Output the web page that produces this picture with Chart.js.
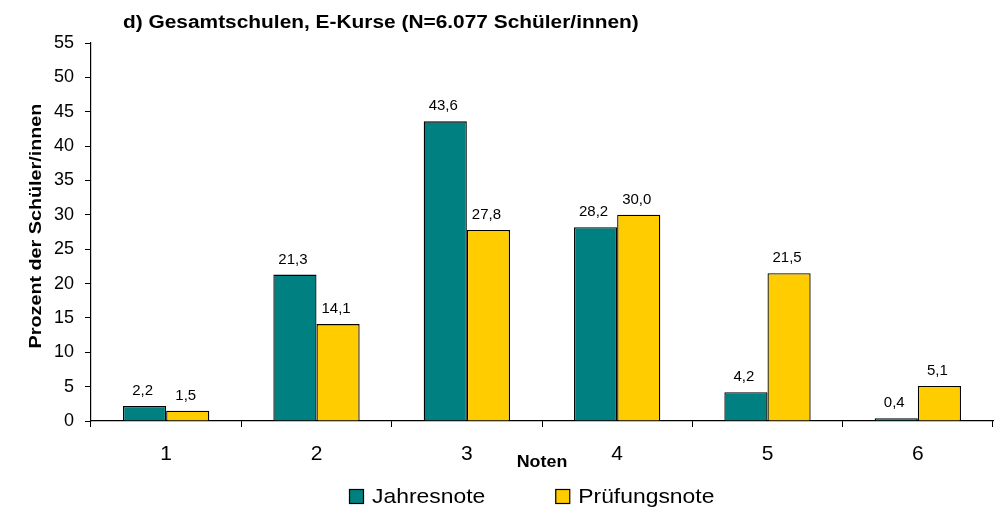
<!DOCTYPE html>
<html>
<head>
<meta charset="utf-8">
<script src="https://cdn.jsdelivr.net/npm/chart.js@4.4.1/dist/chart.umd.min.js"></script>
<style>
  html, body { margin: 0; padding: 0; background: #fff; }
  #wrap { width: 1004px; height: 513px; position: relative; }
</style>
</head>
<body>
<div id="wrap"><canvas id="c" width="1004" height="513"></canvas></div>
<script>
const titleText = 'd) Gesamtschulen, E-Kurse (N=6.077 Schüler/innen)';
const categories = ['1', '2', '3', '4', '5', '6'];
const seriesNames = ['Jahresnote', 'Prüfungsnote'];
const jahresnote = [2.2, 21.3, 43.6, 28.2, 4.2, 0.4];
const pruefungsnote = [1.5, 14.1, 27.8, 30.0, 21.5, 5.1];
const yTicks = [0, 5, 10, 15, 20, 25, 30, 35, 40, 45, 50, 55];
const yTitle = 'Prozent der Schüler/innen';
const xTitle = 'Noten';
const colors = ['#008080', '#FFCC00'];

const FONT = '"Liberation Sans", Arial, sans-serif';

const fmt = v => v.toFixed(1).replace('.', ',');

// draw text stretched along its direction by factor sx
function stretchText(ctx, text, x, y, sx, align) {
  ctx.save();
  ctx.translate(x, y);
  ctx.scale(sx, 1);
  ctx.textAlign = align;
  ctx.fillText(text, 0, 0);
  ctx.restore();
  return ctx.measureText(text).width * sx;
}

const overlay = {
  id: 'overlay',
  afterDatasetsDraw(chart) {
    const ctx = chart.ctx;
    ctx.save();
    // data labels
    ctx.font = '15px ' + FONT;
    ctx.fillStyle = '#000';
    ctx.textBaseline = 'alphabetic';
    chart.data.datasets.forEach((ds, i) => {
      const meta = chart.getDatasetMeta(i);
      meta.data.forEach((bar, j) => {
        stretchText(ctx, fmt(ds.data[j]), bar.x - 2, bar.y - 11, 1.0, 'center');
      });
    });
    const ca = chart.chartArea;
    // title
    ctx.font = 'bold 18px ' + FONT;
    stretchText(ctx, titleText, 123, 28, 1.16, 'left');
    // x axis title
    ctx.font = 'bold 17px ' + FONT;
    ctx.textBaseline = 'middle';
    stretchText(ctx, xTitle, (ca.left + ca.right) / 2, 462, 1.05, 'center');
    // y axis title
    ctx.save();
    ctx.translate(37, (ca.top + ca.bottom) / 2 - 6);
    ctx.rotate(-Math.PI / 2);
    ctx.font = 'bold 16px ' + FONT;
    stretchText(ctx, yTitle, 0, 0, 1.235, 'center');
    ctx.restore();
    // legend
    ctx.font = '21px ' + FONT;
    ctx.textBaseline = 'middle';
    let x = 349;
    const y = 496;
    chart.data.datasets.forEach((ds, i) => {
      ctx.fillStyle = ds.backgroundColor;
      ctx.fillRect(x, y - 7, 14, 14);
      ctx.strokeStyle = '#000';
      ctx.lineWidth = 1.2;
      ctx.strokeRect(x + 0.5, y - 6.5, 14, 14);
      ctx.fillStyle = '#000';
      const w = stretchText(ctx, ds.label, x + 23, y + 1, 1.09, 'left');
      x += 23 + w + 70;
    });
    ctx.restore();
  }
};

new Chart(document.getElementById('c'), {
  type: 'bar',
  data: {
    labels: categories,
    datasets: [
      { label: seriesNames[0], data: jahresnote, backgroundColor: colors[0], borderColor: '#000', borderWidth: 1.3, borderSkipped: 'bottom' },
      { label: seriesNames[1], data: pruefungsnote, backgroundColor: colors[1], borderColor: '#000', borderWidth: 1.3, borderSkipped: 'bottom' }
    ]
  },
  options: {
    responsive: false,
    animation: false,
    events: [],
    layout: { padding: { top: 43, right: 11, bottom: 42, left: 0 } },
    datasets: { bar: { categoryPercentage: 0.574, barPercentage: 1.0 } },
    plugins: {
      legend: { display: false },
      title: { display: false },
      tooltip: { enabled: false }
    },
    scales: {
      x: {
        afterFit(s) { s.height = 50; },
        grid: { offset: true, drawOnChartArea: false, drawTicks: true, tickLength: 6, color: '#000', lineWidth: 1 },
        border: { display: true, color: '#000', width: 1.2 },
        ticks: { color: '#000', font: { family: FONT, size: 21 }, padding: 15, maxRotation: 0 }
      },
      y: {
        min: 0, max: 55,
        afterFit(s) { s.width = 91; },
        afterBuildTicks(s) { s.ticks = yTicks.map(v => ({ value: v })); },
        grid: { drawOnChartArea: false, drawTicks: true, tickLength: 6, color: '#000', lineWidth: 1 },
        border: { display: true, color: '#000', width: 1.2 },
        ticks: { color: '#000', font: { family: FONT, size: 18 }, padding: 11 }
      }
    }
  },
  plugins: [overlay]
});
</script>
</body>
</html>
